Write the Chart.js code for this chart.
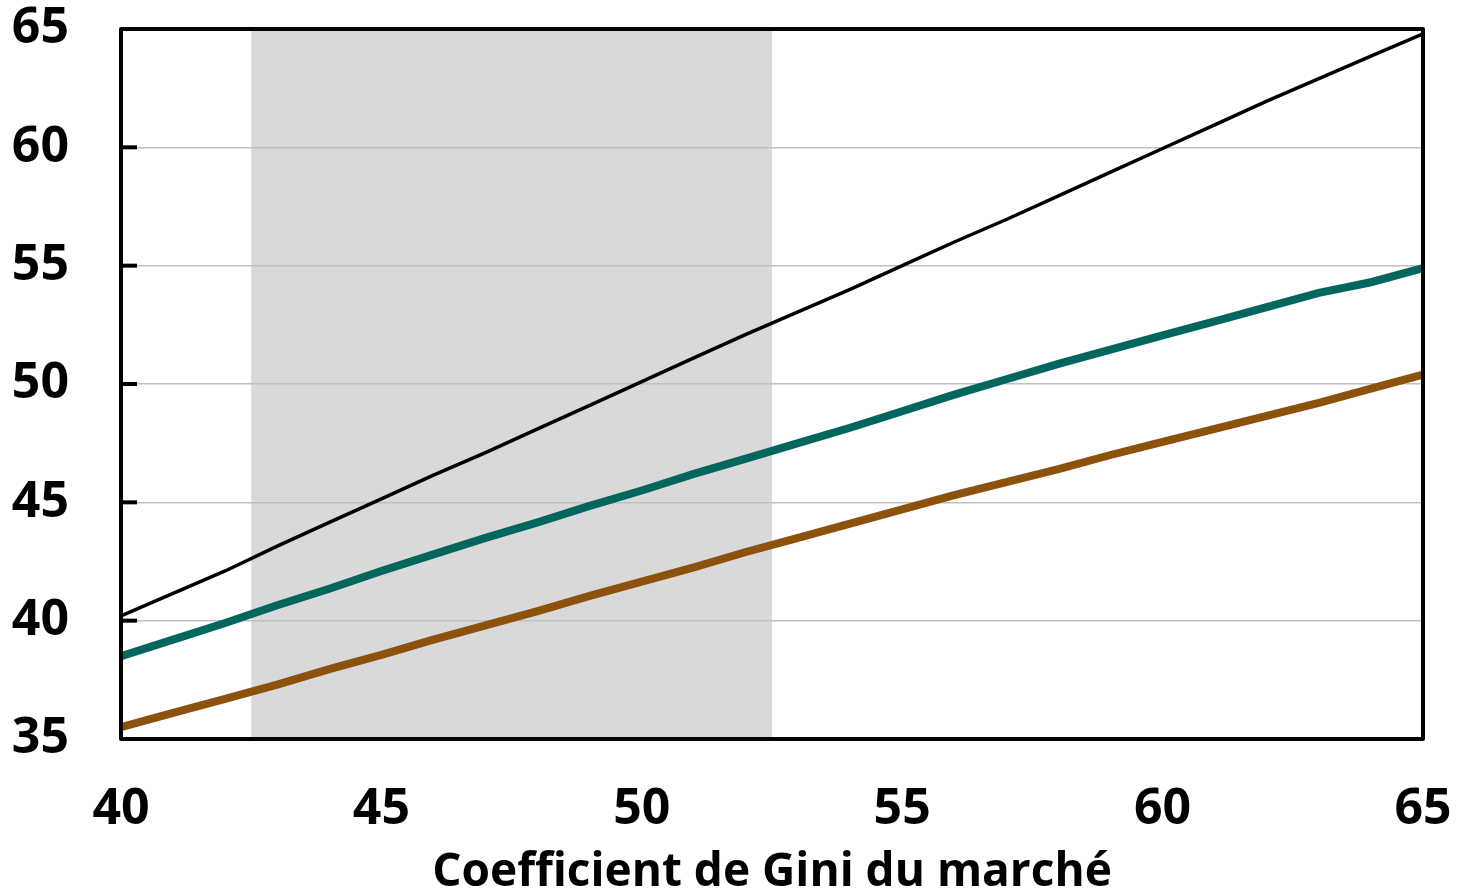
<!DOCTYPE html>
<html>
<head>
<meta charset="utf-8">
<script src="https://cdn.jsdelivr.net/npm/chart.js@4/dist/chart.umd.min.js"></script>
<style>
  html, body { margin: 0; padding: 0; background: #fff; }
  #wrap { width: 1457px; height: 893px; }
</style>
</head>
<body>
<div id="wrap"><canvas id="giniChart" width="1457" height="893"></canvas></div>
<script>
// market Gini (x) and the three curves
const giniMarket = [40, 41, 42, 43, 44, 45, 46, 47, 48, 49, 50, 51, 52, 53, 54, 55, 56, 57, 58, 59, 60, 61, 62, 63, 64, 65];
const blackLine = [40.2, 41.15, 42.1, 43.15, 44.15, 45.15, 46.15, 47.1, 48.1, 49.1, 50.1, 51.1, 52.1, 53.05, 54.0, 55.0, 56.0, 56.95, 57.95, 58.95, 59.95, 60.95, 61.95, 62.9, 63.85, 64.8];
const tealLine = [38.5, 39.2, 39.9, 40.65, 41.35, 42.1, 42.8, 43.5, 44.15, 44.85, 45.5, 46.2, 46.85, 47.5, 48.15, 48.85, 49.55, 50.2, 50.85, 51.45, 52.05, 52.65, 53.25, 53.85, 54.3, 54.9];
const brownLine = [35.5, 36.1, 36.7, 37.3, 37.95, 38.55, 39.2, 39.8, 40.4, 41.05, 41.65, 42.25, 42.9, 43.5, 44.1, 44.7, 45.3, 45.85, 46.4, 47.0, 47.55, 48.1, 48.65, 49.2, 49.8, 50.4];
const shadedRange = [42.5, 52.5];
const xTicks = [40, 45, 50, 55, 60, 65];
const yTicks = [35, 40, 45, 50, 55, 60, 65];

const toPoints = (ys) => giniMarket.map((x, i) => ({ x: x, y: ys[i] }));

// grey band behind the grid
const bandPlugin = {
    id: 'band',
    beforeDraw(chart) {
        const { ctx, chartArea, scales } = chart;
        const x0 = scales.x.getPixelForValue(shadedRange[0]);
        const x1 = scales.x.getPixelForValue(shadedRange[1]);
        ctx.save();
        ctx.fillStyle = '#d9d9d9';
        ctx.fillRect(x0, chartArea.top, x1 - x0, chartArea.bottom - chartArea.top);
        ctx.restore();
    }
};

// frame and inward tick marks on the left
const framePlugin = {
    id: 'frame',
    afterDatasetsDraw(chart) {
        const { ctx, chartArea, scales } = chart;
        ctx.save();
        ctx.strokeStyle = '#000';
        ctx.lineWidth = 4;
        ctx.lineJoin = 'round';
        ctx.strokeRect(chartArea.left, chartArea.top, chartArea.right - chartArea.left, chartArea.bottom - chartArea.top);
        yTicks.forEach(v => {
            const y = scales.y.getPixelForValue(v);
            ctx.beginPath();
            ctx.moveTo(chartArea.left, y);
            ctx.lineTo(chartArea.left + 16, y);
            ctx.stroke();
        });
        ctx.restore();
    }
};

const tickFont = { family: '"Open Sans", sans-serif', size: 50, weight: 'bold' };

new Chart(document.getElementById('giniChart'), {
    type: 'line',
    data: {
        datasets: [
            { data: toPoints(blackLine), borderColor: '#000000', borderWidth: 3.5, pointRadius: 0, tension: 0 },
            { data: toPoints(tealLine), borderColor: '#01665e', borderWidth: 8, pointRadius: 0, tension: 0 },
            { data: toPoints(brownLine), borderColor: '#8c510a', borderWidth: 8, pointRadius: 0, tension: 0 }
        ]
    },
    options: {
        responsive: false,
        animation: false,
        layout: { padding: { top: 29, right: 34, left: 0, bottom: 0 } },
        plugins: {
            legend: { display: false },
            tooltip: { enabled: false }
        },
        scales: {
            x: {
                type: 'linear',
                min: 40,
                max: 65,
                afterBuildTicks: (scale) => { scale.ticks = xTicks.map(v => ({ value: v })); },
                afterFit: (scale) => {
                    scale.height = 154;
                    scale.paddingLeft = 0;
                    scale.paddingRight = 0;
                },
                grid: { display: false, drawTicks: false },
                border: { display: false },
                ticks: { color: '#000', font: tickFont, padding: 41, maxRotation: 0 },
                title: {
                    display: true,
                    text: 'Coefficient de Gini du marché',
                    color: '#000',
                    font: { family: '"Open Sans", sans-serif', size: 46, weight: 'bold' },
                    padding: { top: 0, bottom: -7 }
                }
            },
            y: {
                min: 35,
                max: 65,
                afterBuildTicks: (scale) => { scale.ticks = yTicks.map(v => ({ value: v })); },
                afterFit: (scale) => {
                    scale.width = 121;
                    scale.paddingTop = 0;
                    scale.paddingBottom = 0;
                },
                grid: {
                    color: (c) => (c.tick && (c.tick.value === 35 || c.tick.value === 65)) ? 'rgba(0,0,0,0)' : '#bfbfbf',
                    lineWidth: 1.5,
                    drawTicks: false
                },
                border: { display: false },
                ticks: { color: '#000', font: tickFont, padding: 52 }
            }
        }
    },
    plugins: [bandPlugin, framePlugin]
});
</script>
</body>
</html>
